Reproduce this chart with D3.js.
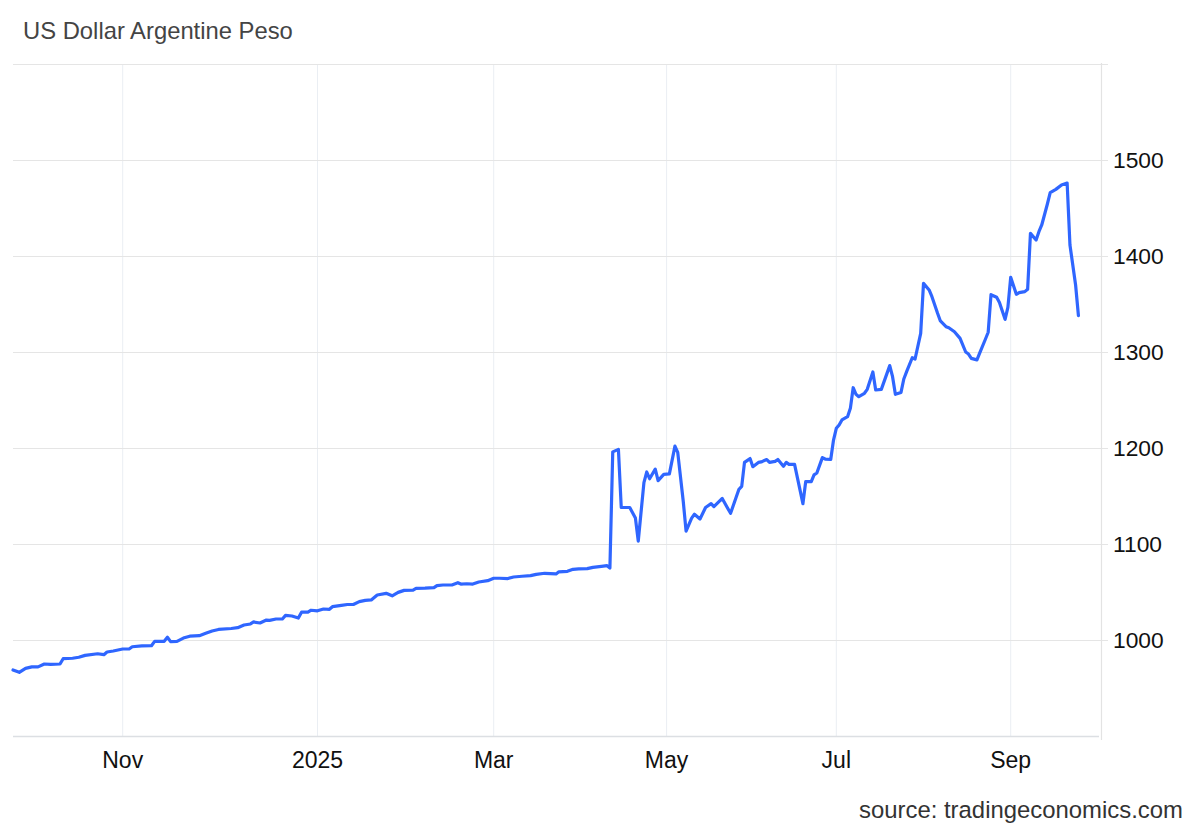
<!DOCTYPE html>
<html>
<head>
<meta charset="utf-8">
<script src="https://cdn.jsdelivr.net/npm/d3@7"></script>
<style>
  html, body { margin: 0; padding: 0; background: #fff; }
  svg { display: block; font-family: "Liberation Sans", Arial, Helvetica, sans-serif; }
</style>
</head>
<body>
<svg id="chart" width="1200" height="832"></svg>
<script>
// ---- data ----
const title = "US Dollar Argentine Peso";
const source = "source: tradingeconomics.com";

const dates = [
  "2024-09-27","2024-09-29","2024-10-01","2024-10-03","2024-10-05","2024-10-07","2024-10-09","2024-10-12",
  "2024-10-13","2024-10-16","2024-10-18","2024-10-20","2024-10-24","2024-10-26","2024-10-27","2024-10-29",
  "2024-11-01","2024-11-03","2024-11-04","2024-11-07","2024-11-10","2024-11-11","2024-11-14","2024-11-15",
  "2024-11-16","2024-11-18","2024-11-20","2024-11-22","2024-11-25","2024-11-27","2024-11-29","2024-12-01",
  "2024-12-05","2024-12-07","2024-12-09","2024-12-11","2024-12-12","2024-12-14","2024-12-16","2024-12-17",
  "2024-12-19","2024-12-21","2024-12-22","2024-12-24","2024-12-26","2024-12-27","2024-12-29","2024-12-30",
  "2025-01-01","2025-01-03","2025-01-05","2025-01-06","2025-01-09","2025-01-11","2025-01-13","2025-01-15",
  "2025-01-17","2025-01-19","2025-01-21","2025-01-24","2025-01-26","2025-01-28","2025-01-30","2025-02-02",
  "2025-02-03","2025-02-06","2025-02-09","2025-02-10","2025-02-12","2025-02-15","2025-02-17","2025-02-18",
  "2025-02-20","2025-02-22","2025-02-24","2025-02-27","2025-03-01","2025-03-03","2025-03-06","2025-03-08",
  "2025-03-11","2025-03-14","2025-03-16","2025-03-19","2025-03-23","2025-03-24","2025-03-27","2025-03-29",
  "2025-03-31","2025-04-03","2025-04-05","2025-04-08","2025-04-10","2025-04-11","2025-04-12","2025-04-14",
  "2025-04-15","2025-04-18","2025-04-20","2025-04-21","2025-04-23","2025-04-24","2025-04-25","2025-04-27",
  "2025-04-28","2025-04-30","2025-05-02","2025-05-04","2025-05-05","2025-05-07","2025-05-08","2025-05-10",
  "2025-05-11","2025-05-13","2025-05-15","2025-05-17","2025-05-18","2025-05-21","2025-05-23","2025-05-24",
  "2025-05-27","2025-05-28","2025-05-29","2025-05-31","2025-06-01","2025-06-03","2025-06-04","2025-06-06",
  "2025-06-07","2025-06-09","2025-06-10","2025-06-12","2025-06-13","2025-06-14","2025-06-16","2025-06-19",
  "2025-06-20","2025-06-22","2025-06-23","2025-06-24","2025-06-26","2025-06-27","2025-06-29","2025-06-30",
  "2025-07-01","2025-07-02","2025-07-03","2025-07-05","2025-07-06","2025-07-07","2025-07-08","2025-07-09",
  "2025-07-11","2025-07-12","2025-07-14","2025-07-15","2025-07-17","2025-07-20","2025-07-21","2025-07-22",
  "2025-07-24","2025-07-25","2025-07-26","2025-07-28","2025-07-29","2025-07-31","2025-08-01","2025-08-03",
  "2025-08-04","2025-08-06","2025-08-07","2025-08-09","2025-08-10","2025-08-12","2025-08-14","2025-08-16",
  "2025-08-17","2025-08-18","2025-08-20","2025-08-21","2025-08-23","2025-08-24","2025-08-25","2025-08-27",
  "2025-08-28","2025-08-30","2025-08-31","2025-09-01","2025-09-03","2025-09-04","2025-09-06","2025-09-07",
  "2025-09-08","2025-09-10","2025-09-11","2025-09-12","2025-09-14","2025-09-15","2025-09-17","2025-09-19",
  "2025-09-21","2025-09-22","2025-09-24","2025-09-25"
];

const usdArs = [
  968.8,966.3,970.5,972.0,972.0,975.0,974.7,975.0,
  980.5,981.0,982.0,984.0,985.7,984.7,987.5,988.5,
  990.6,990.6,993.0,993.8,994.0,998.6,998.6,1002.8,
  998.3,998.6,1002.0,1004.0,1004.5,1007.0,1009.4,1011.0,
  1012.0,1012.8,1015.6,1016.7,1018.8,1017.7,1020.8,1020.5,
  1021.9,1021.9,1025.7,1025.0,1022.9,1029.0,1029.0,1031.0,
  1030.4,1032.3,1032.0,1034.7,1036.0,1037.0,1037.0,1040.0,
  1041.3,1041.7,1046.9,1048.6,1046.0,1049.6,1051.7,1052.0,
  1053.8,1054.0,1054.5,1056.6,1057.3,1057.3,1059.7,1058.3,
  1058.6,1058.3,1060.4,1061.8,1064.3,1064.3,1064.0,1065.6,
  1066.4,1067.0,1068.4,1069.5,1068.8,1071.0,1071.5,1073.6,
  1074.0,1074.3,1075.7,1076.7,1077.4,1075.0,1196.0,1198.6,
  1138.0,1138.0,1127.0,1103.0,1164.0,1175.0,1168.0,1178.0,
  1166.0,1172.5,1173.0,1202.0,1195.5,1144.0,1113.5,1127.0,
  1131.0,1126.0,1138.0,1142.0,1139.0,1147.5,1137.0,1132.0,
  1157.0,1160.0,1185.0,1189.0,1180.5,1185.0,1185.5,1188.0,
  1185.0,1186.0,1188.0,1181.0,1185.0,1183.0,1183.0,1142.0,
  1165.0,1165.0,1172.0,1174.0,1190.0,1188.5,1188.0,1208.3,
  1220.5,1224.0,1229.2,1232.6,1241.3,1262.8,1255.9,1253.5,
  1257.0,1261.1,1279.2,1260.4,1261.1,1285.8,1274.3,1255.9,
  1257.9,1271.9,1279.5,1294.0,1292.7,1319.4,1371.5,1364.6,
  1357.6,1340.3,1332.3,1326.4,1325.3,1321.1,1314.2,1300.0,
  1297.9,1293.4,1291.8,1299.0,1313.3,1320.6,1359.7,1357.0,
  1351.5,1334.0,1346.5,1377.8,1360.1,1361.8,1362.9,1365.3,
  1423.6,1416.7,1425.3,1432.3,1454.2,1466.0,1469.4,1474.0,
  1476.0,1411.5,1369.8,1337.8
];

const yTicks = [900, 1000, 1100, 1200, 1300, 1400, 1500, 1600];
const yLabels = [1000, 1100, 1200, 1300, 1400, 1500];
const xTickDates = ["2024-11-01","2025-01-01","2025-03-01","2025-05-01","2025-07-01","2025-09-01"];
const xTickLabels = ["Nov","2025","Mar","May","Jul","Sep"];
// the source axis is ordinal-like (uneven spacing between months); these anchor dates define it
const xAnchorDates = ["2024-09-27","2024-11-01","2025-01-01","2025-03-01","2025-05-01","2025-07-01","2025-09-01","2025-10-03"];

// ---- layout ----
const plotLeft = 13, plotRight = 1101, plotTop = 64, plotBottom = 736;
const xAnchorPos = [13, 122.7, 317.5, 493.7, 666.6, 836.3, 1010.7, 1101];

const parse = d3.utcParse("%Y-%m-%d");
const data = dates.map((d, i) => ({ date: parse(d), value: usdArs[i] }));

const x = d3.scaleUtc()
  .domain(xAnchorDates.map(parse))
  .range(xAnchorPos);
const y = d3.scaleLinear().domain([900, 1600]).range([plotBottom, plotTop]);

const svg = d3.select("#chart");

// vertical gridlines (month ticks)
svg.append("g")
  .selectAll("line")
  .data(xTickDates.map(parse))
  .join("line")
  .attr("x1", d => x(d)).attr("x2", d => x(d))
  .attr("y1", plotTop).attr("y2", plotBottom)
  .attr("stroke", "#eaeef3").attr("stroke-width", 1);

// horizontal gridlines
svg.append("g")
  .selectAll("line")
  .data(yTicks)
  .join("line")
  .attr("x1", plotLeft)
  .attr("x2", d => d === 900 ? plotRight - 2 : plotRight + 7)
  .attr("y1", d => Math.round(y(d)) + 0.5).attr("y2", d => Math.round(y(d)) + 0.5)
  .attr("stroke", d => d === 900 ? "#dcdfe3" : "#e5e5e5").attr("stroke-width", d => d === 900 ? 1.5 : 1);

// right axis line
svg.append("line")
  .attr("x1", plotRight + 0.5).attr("x2", plotRight + 0.5)
  .attr("y1", plotTop - 1).attr("y2", plotBottom + 4)
  .attr("stroke", "#e3e3e3").attr("stroke-width", 1.2);

// y labels (right side)
svg.append("g")
  .selectAll("text")
  .data(yLabels)
  .join("text")
  .attr("x", 1113)
  .attr("y", d => y(d))
  .attr("dy", "0.36em")
  .attr("font-size", 22.8)
  .attr("fill", "#111")
  .text(d => d);

// x labels
svg.append("g")
  .selectAll("text")
  .data(xTickDates)
  .join("text")
  .attr("x", d => x(parse(d)))
  .attr("y", 768)
  .attr("text-anchor", "middle")
  .attr("font-size", 23)
  .attr("fill", "#111")
  .text((d, i) => xTickLabels[i]);

// line
const line = d3.line().x(d => x(d.date)).y(d => y(d.value));
svg.append("path")
  .datum(data)
  .attr("d", line)
  .attr("fill", "none")
  .attr("stroke", "#2f66ff")
  .attr("stroke-width", 3.2)
  .attr("stroke-linejoin", "round")
  .attr("stroke-linecap", "round");

// title
svg.append("text")
  .attr("x", 23).attr("y", 39)
  .attr("font-size", 23.8)
  .attr("fill", "#444")
  .text(title);

// source
svg.append("text")
  .attr("x", 1183).attr("y", 818)
  .attr("text-anchor", "end")
  .attr("font-size", 23.9)
  .attr("fill", "#333")
  .text(source);
</script>
</body>
</html>
